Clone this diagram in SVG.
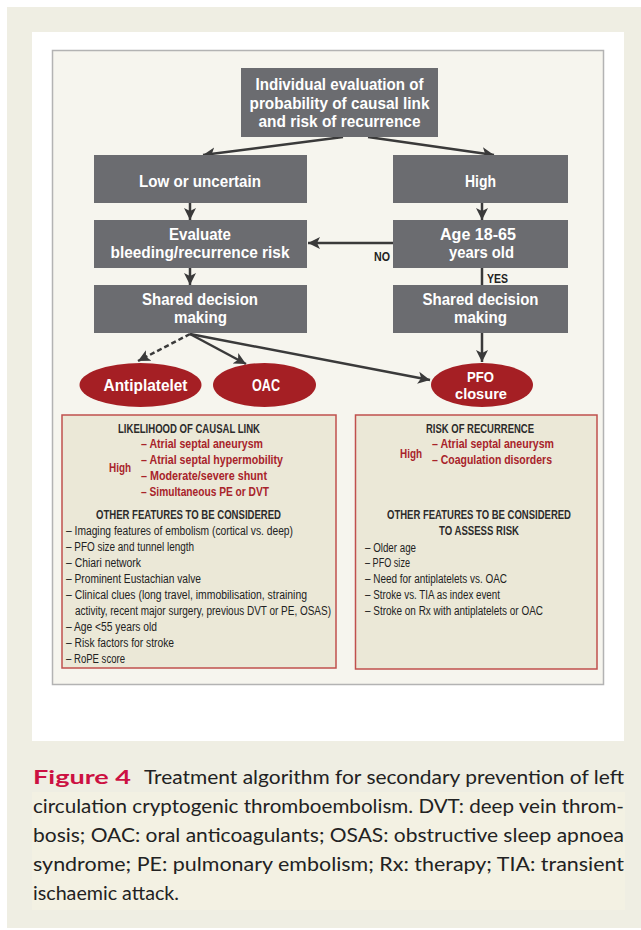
<svg xmlns="http://www.w3.org/2000/svg" width="641" height="930" viewBox="0 0 641 930">
<defs>
<style>
.box{fill:#6b6c70}
.ell{fill:#a51f24}
.bt{font-family:'Liberation Sans Narrow','Liberation Sans',Arial,sans-serif;font-weight:bold;font-size:17px;fill:#ffffff;text-anchor:middle}
.panel{fill:#ebe8d7;stroke:#c0504d;stroke-width:1.5}
.h{font-family:'Liberation Sans Narrow','Liberation Sans',Arial,sans-serif;font-weight:bold;font-size:13px;fill:#2b2b2b;text-anchor:middle}
.r{font-family:'Liberation Sans Narrow','Liberation Sans',Arial,sans-serif;font-weight:bold;font-size:13px;fill:#a8232a}
.li{font-family:'Liberation Sans Narrow','Liberation Sans',Arial,sans-serif;font-size:12px;fill:#222222}
.lab{font-family:'Liberation Sans Narrow','Liberation Sans',Arial,sans-serif;font-weight:bold;font-size:12px;fill:#222222}
.con{stroke:#3a3a3a;stroke-width:2.5;fill:none}
.cap{font-family:Lato,'Open Sans',sans-serif;font-size:19.5px;fill:#222222}
.fig{font-family:Lato,'Open Sans',sans-serif;font-size:19.5px;font-weight:bold;fill:#cc1142}
</style>
<marker id="ah" markerUnits="userSpaceOnUse" markerWidth="14" markerHeight="14" viewBox="0 0 14 14" refX="12" refY="7" orient="auto">
<path d="M0,1 L12,7 L0,13 L3,7 Z" fill="#3a3a3a"/>
</marker>
</defs>
<rect x="0" y="0" width="641" height="930" fill="#ffffff"/>
<rect x="7" y="7" width="634" height="921" fill="#efeee3"/>
<rect x="32" y="32" width="592" height="709" fill="#ffffff"/>
<rect x="32" y="792" width="593" height="118" fill="#f3f1e3"/>
<rect x="52.5" y="50.5" width="551" height="634" fill="#f6f5ee" stroke="#b3b3b3" stroke-width="1.5"/>

<g id="connectors">
<line class="con" x1="343" y1="137" x2="203" y2="155" marker-end="url(#ah)"/>
<line class="con" x1="368" y1="137" x2="494" y2="155" marker-end="url(#ah)"/>
<line class="con" x1="190" y1="203" x2="190" y2="220" marker-end="url(#ah)"/>
<line class="con" x1="482" y1="203" x2="482" y2="220" marker-end="url(#ah)"/>
<line class="con" x1="393" y1="243" x2="308" y2="243" marker-end="url(#ah)"/>
<line class="con" x1="190" y1="268" x2="190" y2="285" marker-end="url(#ah)"/>
<line class="con" x1="482" y1="268" x2="482" y2="285"/>
<line class="con" x1="482" y1="333" x2="482" y2="362" marker-end="url(#ah)"/>
<line class="con" x1="190" y1="334" x2="138" y2="361" stroke-dasharray="5,3" marker-end="url(#ah)"/>
<line class="con" x1="190" y1="334" x2="246" y2="364" marker-end="url(#ah)"/>
<line class="con" x1="190" y1="334" x2="430" y2="380" marker-end="url(#ah)"/>
<text class="lab" x="374" y="261" textLength="16" lengthAdjust="spacingAndGlyphs">NO</text>
<text class="lab" x="487" y="283" textLength="21" lengthAdjust="spacingAndGlyphs">YES</text>
</g>

<g id="n-eval">
<rect class="box" x="241" y="68" width="197" height="69"/>
<text class="bt" x="339.5" y="90" textLength="168" lengthAdjust="spacingAndGlyphs">Individual evaluation of</text>
<text class="bt" x="339.5" y="109" textLength="180" lengthAdjust="spacingAndGlyphs">probability of causal link</text>
<text class="bt" x="339.5" y="127" textLength="162" lengthAdjust="spacingAndGlyphs">and risk of recurrence</text>
</g>
<g id="n-low">
<rect class="box" x="94" y="155" width="213" height="48"/>
<text class="bt" x="200" y="187" textLength="122" lengthAdjust="spacingAndGlyphs">Low or uncertain</text>
</g>
<g id="n-high">
<rect class="box" x="393" y="155" width="175" height="48"/>
<text class="bt" x="480.5" y="187" textLength="31" lengthAdjust="spacingAndGlyphs">High</text>
</g>
<g id="n-bleed">
<rect class="box" x="94" y="220" width="213" height="48"/>
<text class="bt" x="200" y="240" textLength="62" lengthAdjust="spacingAndGlyphs">Evaluate</text>
<text class="bt" x="200" y="258" textLength="179" lengthAdjust="spacingAndGlyphs">bleeding/recurrence risk</text>
</g>
<g id="n-age">
<rect class="box" x="393" y="220" width="175" height="48"/>
<text class="bt" x="478" y="240" textLength="76" lengthAdjust="spacingAndGlyphs">Age 18-65</text>
<text class="bt" x="481.5" y="258" textLength="65" lengthAdjust="spacingAndGlyphs">years old</text>
</g>
<g id="n-shared-left">
<rect class="box" x="94" y="285" width="213" height="48"/>
<text class="bt" x="200" y="305" textLength="116" lengthAdjust="spacingAndGlyphs">Shared decision</text>
<text class="bt" x="200.5" y="323" textLength="53" lengthAdjust="spacingAndGlyphs">making</text>
</g>
<g id="n-shared-right">
<rect class="box" x="393" y="285" width="175" height="48"/>
<text class="bt" x="480.5" y="305" textLength="116" lengthAdjust="spacingAndGlyphs">Shared decision</text>
<text class="bt" x="480.5" y="323" textLength="53" lengthAdjust="spacingAndGlyphs">making</text>
</g>
<g id="n-antiplatelet">
<ellipse class="ell" cx="140.5" cy="385" rx="61" ry="22"/>
<text class="bt" x="145.5" y="391" textLength="84" lengthAdjust="spacingAndGlyphs">Antiplatelet</text>
</g>
<g id="n-oac">
<ellipse class="ell" cx="264.5" cy="385" rx="51.5" ry="22"/>
<text class="bt" x="266" y="391" textLength="28" lengthAdjust="spacingAndGlyphs">OAC</text>
</g>
<g id="n-pfo">
<ellipse class="ell" cx="482" cy="385" rx="51" ry="22"/>
<text class="bt" x="480.5" y="382" style="font-size:15.5px" textLength="27" lengthAdjust="spacingAndGlyphs">PFO</text>
<text class="bt" x="481" y="399" style="font-size:15.5px" textLength="52" lengthAdjust="spacingAndGlyphs">closure</text>
</g>

<g id="panel-causal">
<rect class="panel" x="62" y="415" width="274" height="253"/>
<text class="h" x="189" y="433" textLength="142" lengthAdjust="spacingAndGlyphs">LIKELIHOOD OF CAUSAL LINK</text>
<text class="r" x="109" y="472" textLength="22" lengthAdjust="spacingAndGlyphs">High</text>
<text class="r" x="141" y="448" textLength="122" lengthAdjust="spacingAndGlyphs">– Atrial septal aneurysm</text>
<text class="r" x="141" y="464" textLength="142" lengthAdjust="spacingAndGlyphs">– Atrial septal hypermobility</text>
<text class="r" x="141" y="480" textLength="126" lengthAdjust="spacingAndGlyphs">– Moderate/severe shunt</text>
<text class="r" x="141" y="496" textLength="128" lengthAdjust="spacingAndGlyphs">– Simultaneous PE or DVT</text>
<text class="h" x="188.5" y="519" textLength="185" lengthAdjust="spacingAndGlyphs">OTHER FEATURES TO BE CONSIDERED</text>
<text class="li" x="66" y="535" textLength="227" lengthAdjust="spacingAndGlyphs">– Imaging features of embolism (cortical vs. deep)</text>
<text class="li" x="66" y="551" textLength="128" lengthAdjust="spacingAndGlyphs">– PFO size and tunnel length</text>
<text class="li" x="66" y="567" textLength="75" lengthAdjust="spacingAndGlyphs">– Chiari network</text>
<text class="li" x="66" y="583" textLength="135" lengthAdjust="spacingAndGlyphs">– Prominent Eustachian valve</text>
<text class="li" x="66" y="599" textLength="241" lengthAdjust="spacingAndGlyphs">– Clinical clues (long travel, immobilisation, straining</text>
<text class="li" x="75" y="615" textLength="256" lengthAdjust="spacingAndGlyphs">activity, recent major  surgery, previous DVT or PE, OSAS)</text>
<text class="li" x="66" y="631" textLength="91" lengthAdjust="spacingAndGlyphs">– Age &lt;55 years old</text>
<text class="li" x="66" y="647" textLength="108" lengthAdjust="spacingAndGlyphs">– Risk factors for stroke</text>
<text class="li" x="66" y="663" textLength="59" lengthAdjust="spacingAndGlyphs">– RoPE score</text>
</g>

<g id="panel-recurrence">
<rect class="panel" x="355.5" y="415" width="241.5" height="254"/>
<text class="h" x="480" y="433" textLength="108" lengthAdjust="spacingAndGlyphs">RISK OF RECURRENCE</text>
<text class="r" x="400" y="458" textLength="22" lengthAdjust="spacingAndGlyphs">High</text>
<text class="r" x="432" y="448" textLength="122" lengthAdjust="spacingAndGlyphs">– Atrial septal aneurysm</text>
<text class="r" x="432" y="464" textLength="120" lengthAdjust="spacingAndGlyphs">– Coagulation disorders</text>
<text class="h" x="479" y="519" textLength="184" lengthAdjust="spacingAndGlyphs">OTHER FEATURES TO BE CONSIDERED</text>
<text class="h" x="479" y="535" textLength="80" lengthAdjust="spacingAndGlyphs">TO ASSESS RISK</text>
<text class="li" x="365" y="552" textLength="51" lengthAdjust="spacingAndGlyphs">– Older age</text>
<text class="li" x="365" y="567" textLength="45" lengthAdjust="spacingAndGlyphs">– PFO size</text>
<text class="li" x="365" y="583" textLength="142" lengthAdjust="spacingAndGlyphs">– Need for antiplatelets vs. OAC</text>
<text class="li" x="365" y="599" textLength="135" lengthAdjust="spacingAndGlyphs">– Stroke vs. TIA as index event</text>
<text class="li" x="365" y="615" textLength="178" lengthAdjust="spacingAndGlyphs">– Stroke on Rx with antiplatelets or OAC</text>
</g>

<g id="caption">
<text class="fig" x="33" y="784" textLength="98" lengthAdjust="spacingAndGlyphs">Figure 4</text>
<text class="cap" x="144" y="784" textLength="480" lengthAdjust="spacingAndGlyphs">Treatment algorithm for secondary prevention of left</text>
<text class="cap" x="33" y="813" textLength="591" lengthAdjust="spacingAndGlyphs">circulation cryptogenic thromboembolism. DVT: deep vein throm-</text>
<text class="cap" x="33" y="842" textLength="591" lengthAdjust="spacingAndGlyphs">bosis; OAC: oral anticoagulants; OSAS: obstructive sleep apnoea</text>
<text class="cap" x="33" y="871" textLength="591" lengthAdjust="spacingAndGlyphs">syndrome; PE: pulmonary embolism; Rx: therapy; TIA: transient</text>
<text class="cap" x="33" y="900" textLength="146" lengthAdjust="spacingAndGlyphs">ischaemic attack.</text>
</g>
</svg>
